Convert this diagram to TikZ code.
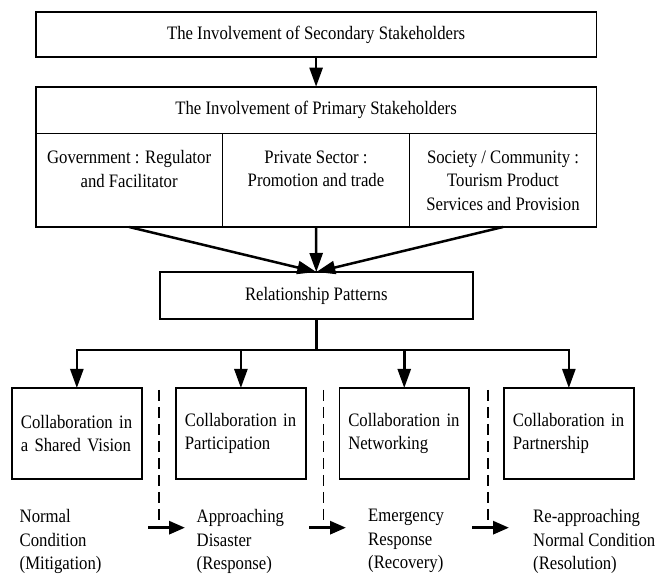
\documentclass[tikz,border=0pt]{standalone}
\usepackage{fontspec}
\setmainfont{Liberation Serif}[FakeStretch=0.88]
\usetikzlibrary{arrows.meta}
\begin{document}
\begin{tikzpicture}[x=1pt,y=1pt,
  font=\fontsize{19}{23.5}\selectfont,
  box/.style={draw, line width=1.8pt, inner sep=0pt, outer sep=0pt, align=center},
  cbox/.style={box, align=left, text width=112pt, inner xsep=8.75pt, minimum width=129.5pt, minimum height=91pt},
  celltext/.style={inner sep=0pt, align=center, anchor=north},
  lbl/.style={inner sep=0pt, align=left, anchor=north west},
  conn/.style={line width=2.5pt},
  arr/.style={conn, -{Triangle[length=19pt,width=13pt]}},
  dashline/.style={line width=1.4pt, dash pattern=on 11pt off 6pt},
  barr/.style={line width=3pt, -{Triangle[length=16pt,width=13pt]}}]
\useasboundingbox (0,0) rectangle (657,577);
% top boxes
\node[box, minimum width=560.8pt, minimum height=45.6pt] (sec) at (316.1,542.5) {The Involvement of Secondary Stakeholders};
\node[box, minimum width=560.8pt, minimum height=46.8pt] (pri) at (316.1,466.9) {The Involvement of Primary Stakeholders};
\node[box, minimum width=186.8pt, minimum height=93.5pt] (gov) at (129.1,396.75) {};
\node[box, minimum width=187pt, minimum height=93.5pt] (pvt) at (316,396.75) {};
\node[box, minimum width=187pt, minimum height=93.5pt] (soc) at (503,396.75) {};
\node[celltext] (govt) at ([yshift=-17pt]gov.north) {Government : Regulator\\and Facilitator};
\node[celltext] (pvtt) at ([yshift=-17pt]pvt.north) {Private Sector :\\Promotion and trade};
\node[celltext] (soct) at ([yshift=-17pt]soc.north) {Society / Community :\\Tourism Product\\Services and Provision};
% relationship
\node[box, minimum width=312.6pt, minimum height=47pt] (rel) at (316.3,281.5) {Relationship Patterns};
% bottom boxes
\node[cbox] (b1) at (76.85,143.5) {Collaboration in\\a Shared Vision};
\node[cbox] (b2) at (240.9,143.5) {Collaboration in\\Participation};
\node[cbox] (b3) at (404.25,143.5) {Collaboration in\\Networking};
\node[cbox] (b4) at (568.85,143.5) {Collaboration in\\Partnership};
% connectors
\draw[arr] (sec.south) -- (pri.north);
\draw[arr] (gov.south) -- (rel.north);
\draw[arr] (pvt.south) -- (rel.north);
\draw[arr] (soc.south) -- (rel.north);
\coordinate (bar) at (316.3,227);
\draw[conn] (rel.south) -- (bar);
\draw[conn, {Triangle[length=19pt,width=13pt]}-{Triangle[length=19pt,width=13pt]}]
  (b1.north) -- (b1.north |- bar) -- (b4.north |- bar) -- (b4.north);
\draw[arr] (b2.north |- bar) -- (b2.north);
\draw[arr] (b3.north |- bar) -- (b3.north);
% dashed separators
\coordinate (d1t) at (159,187); \coordinate (d1b) at (159,55);
\coordinate (d2t) at (323.5,187); \coordinate (d2b) at (323.5,55);
\coordinate (d3t) at (488,187); \coordinate (d3b) at (488,55);
\draw[dashline] (d1t) -- (d1b);
\draw[dashline] (d2t) -- (d2b);
\draw[dashline] (d3t) -- (d3b);
% phase arrows
\coordinate (a1s) at (148,49.3); \coordinate (a1e) at (185,49.3);
\coordinate (a2s) at (309,49.3); \coordinate (a2e) at (346,49.3);
\coordinate (a3s) at (472,49.3); \coordinate (a3e) at (509,49.3);
\draw[barr] (a1s) -- (a1e);
\draw[barr] (a2s) -- (a2e);
\draw[barr] (a3s) -- (a3e);
% labels
\node[lbl] (l1) at (19.5,67.8) {Normal\\Condition\\(Mitigation)};
\node[lbl] (l2) at (196.5,67.8) {Approaching\\Disaster\\(Response)};
\node[lbl] (l3) at (368,67.8) {Emergency\\Response\\(Recovery)};
\node[lbl] (l4) at (533,67.8) {Re-approaching\\Normal Condition\\(Resolution)};
\end{tikzpicture}
\end{document}
